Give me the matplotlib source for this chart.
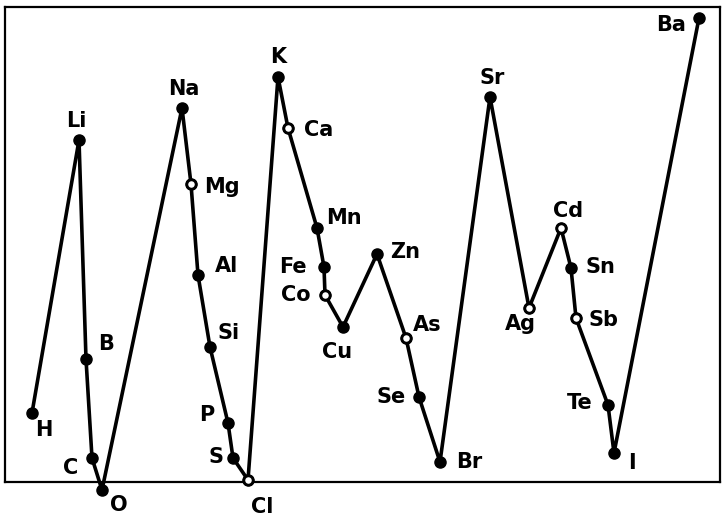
import matplotlib.pyplot as plt

# element symbols, in the order the curve joins them
elements = ['H', 'Li', 'B', 'C', 'O', 'Na', 'Mg', 'Al', 'Si', 'P', 'S', 'Cl',
            'K', 'Ca', 'Mn', 'Fe', 'Co', 'Cu', 'Zn', 'As', 'Se', 'Br',
            'Sr', 'Ag', 'Cd', 'Sn', 'Sb', 'Te', 'I', 'Ba']

# horizontal position and height (arbitrary units)
xpos = [27, 74, 81, 87, 97, 177, 186, 193, 205, 223, 228, 243,
        273, 283, 312, 319, 320, 338, 372, 401, 414, 435,
        485, 524, 556, 566, 571, 603, 609, 694]
height = [69, 342, 123, 24, -8, 374, 298, 207, 135, 59, 24, 2,
          405, 354, 254, 215, 187, 155, 228, 144, 85, 20,
          385, 174, 254, 214, 164, 77, 29, 464]

# points drawn as small open rings in the original
open_marks = ['Mg', 'Cl', 'Ca', 'Co', 'As', 'Ag', 'Cd', 'Sb']

# label offsets in pixels (dx, dy)
offsets = [(12, -17), (-3, 19), (20, 15), (-21, -10), (17, -15), (2, 19),
           (31, -3), (29, 9), (19, 14), (-21, 8), (-17, 1), (14, -27),
           (0, 20), (31, -2), (27, 10), (-31, 0), (-29, 0), (-6, -25),
           (28, 2), (21, 13), (-28, 0), (29, 0),
           (2, 19), (-9, -16), (7, 17), (29, 1), (28, -2), (-28, 2),
           (18, -10), (-28, -7)]

fig = plt.figure(figsize=(7.23, 5.17), dpi=100)
ax = fig.add_axes([5 / 723, 35 / 517, 715 / 723, 475 / 517])

ax.plot(xpos, height, color='black', lw=2.6, marker='o', markersize=8,
        clip_on=False, zorder=3)

# open rings on top of the filled dots
ox = [x for el, x in zip(elements, xpos) if el in open_marks]
oy = [y for el, y in zip(elements, height) if el in open_marks]
ax.plot(ox, oy, ls='none', marker='o', markersize=6.5, mfc='white',
        mec='black', mew=1.8, clip_on=False, zorder=4)

for el, x, y, (dx, dy) in zip(elements, xpos, height, offsets):
    ax.annotate(el, (x, y), xytext=(dx, dy), textcoords='offset pixels',
                ha='center', va='center', fontsize=15, fontweight='bold',
                annotation_clip=False)

ax.set_xlim(0, 715)
ax.set_ylim(0, 475)
ax.set_xticks([])
ax.set_yticks([])
for s in ax.spines.values():
    s.set_linewidth(1.6)

fig.savefig('out.png', dpi=100)
